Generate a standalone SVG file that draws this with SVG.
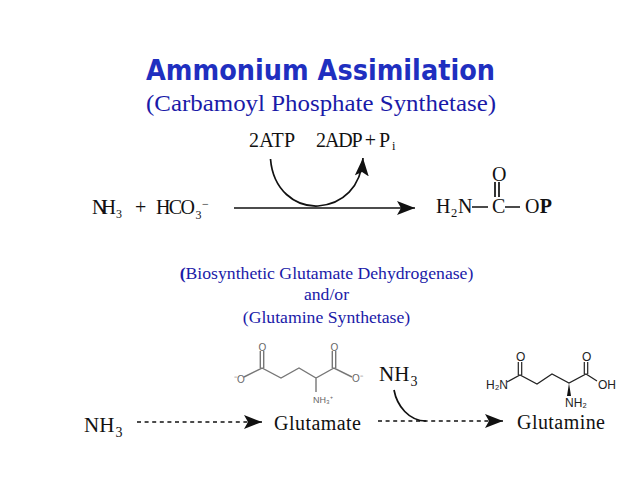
<svg xmlns="http://www.w3.org/2000/svg" width="638" height="479" viewBox="0 0 638 479">
<style>
.t{font-family:"Liberation Serif",serif;fill:#111}
.b{font-family:"Liberation Serif",serif;fill:#1a1aa8;font-size:17.7px;text-anchor:middle}
.l{stroke:#111;fill:none;stroke-width:1.7}
.d{stroke:#111;fill:none;stroke-width:1.7;stroke-dasharray:4 3.600}
.m{stroke:#777;fill:none;stroke-width:1.4}
.g{font-family:"Liberation Sans",sans-serif;fill:#666;font-size:10px}
.k{font-family:"Liberation Sans",sans-serif;fill:#222;font-size:12px}
.s{stroke:#222;fill:none;stroke-width:1.2}
</style>
<defs>
<marker id="a" viewBox="0 0 18 14" refX="18" refY="7" markerWidth="18" markerHeight="14" markerUnits="userSpaceOnUse" orient="auto"><path d="M0 0L18 7L0 14L4 7Z" fill="#111"/></marker>
</defs>
<rect width="638" height="479" fill="#fff"/>
<g id="title">
<text x="146" y="80" textLength="349" lengthAdjust="spacingAndGlyphs" style="font-family:'DejaVu Sans',sans-serif;font-weight:bold;font-size:28.500px;fill:#1f2fc0">Ammonium Assimilation</text>
<text x="146" y="111" textLength="350" lengthAdjust="spacingAndGlyphs" style="font-family:'Liberation Serif',serif;font-size:23.500px;fill:#1a1aa8">(Carbamoyl Phosphate Synthetase)</text>
</g>
<g id="reaction-1-labels" font-size="20">
<text class="t" x="249" y="147" textLength="46" lengthAdjust="spacing">2ATP</text>
<text class="t" x="316" y="147" textLength="74" lengthAdjust="spacing">2ADP + P</text>
<text class="t" x="392" y="150" font-size="12.500">i</text>
</g>
<g id="substrates" font-size="20">
<text class="t" x="92" y="214" textLength="24" lengthAdjust="spacing">NH</text>
<text class="t" x="116" y="218" font-size="12">3</text>
<text class="t" x="135" y="214">+</text>
<text class="t" x="156" y="214" textLength="39" lengthAdjust="spacing">HCO</text>
<text class="t" x="195.500" y="218.500" font-size="12">3</text>
<text class="t" x="202" y="208" font-size="12">−</text>
</g>
<g id="product" font-size="20">
<text class="t" x="436" y="213">H</text>
<text class="t" x="451" y="217" font-size="12.500">2</text>
<text class="t" x="458" y="213">N</text>
<text class="t" x="492" y="213">C</text>
<text class="t" x="492" y="180.500">O</text>
<text class="t" x="525" y="213" textLength="27" lengthAdjust="spacing">O<tspan font-weight="bold">P</tspan></text>
<path class="l" d="M472 207H488M505 207H520M495 182V197M499 182V197"/>
</g>
<g id="enzymes">
<text class="b" x="326.500" y="279"><tspan font-weight="bold">(</tspan>Biosynthetic Glutamate Dehydrogenase)</text>
<text class="b" x="326.500" y="300">and/or</text>
<text class="b" x="326.500" y="323">(Glutamine Synthetase)</text>
</g>
<g id="connectors">
<path class="l" d="M234 208H415" marker-end="url(#a)"/>
<path class="l" d="M270.500 159C273 190 295 207 318 206C343 204 361 187 363 158" marker-end="url(#a)"/>
<path class="d" d="M137 422H262" marker-end="url(#a)"/>
<path class="d" d="M378 421H503" marker-end="url(#a)"/>
<path class="l" d="M394 390C397 406 409 421 426 421"/>
</g>
<g id="glutamate">
<path class="m" d="M244 377L262 368L281 378L299 368L316 378L334 368L352 377M260.300 368V351M263.700 368V351M332.300 368V351M335.700 368V351M316 378V392"/>
<text class="g" x="234" y="383">⁻O</text>
<text class="g" x="258.500" y="351">O</text>
<text class="g" x="330.500" y="351">O</text>
<text class="g" x="352" y="382">O⁻</text>
<text class="g" x="313" y="402.500" style="font-size:9px">NH₃⁺</text>
</g>
<g id="glutamine">
<path class="s" d="M507 382L520 375L537 384L552 374L569 383L586 374L597 381M518.300 375V362M521.700 375V362M584.300 374V362M587.700 374V362"/>
<path d="M569 383L567 396H571Z" fill="#111"/>
<text class="k" x="486" y="389">H₂N</text>
<text class="k" x="516" y="361">O</text>
<text class="k" x="582" y="361">O</text>
<text class="k" x="598" y="389">OH</text>
<text class="k" x="565" y="406.500">NH₂</text>
</g>
<g id="reaction-2-labels" font-size="21">
<text class="t" x="84" y="432">NH</text>
<text class="t" x="115.500" y="437" font-size="14">3</text>
<text class="t" x="379" y="381">NH</text>
<text class="t" x="410.500" y="386" font-size="14">3</text>
<text class="t" x="274" y="430" textLength="87" lengthAdjust="spacing" font-size="20">Glutamate</text>
<text class="t" x="517" y="429" textLength="88" lengthAdjust="spacing" font-size="20">Glutamine</text>
</g>
</svg>
